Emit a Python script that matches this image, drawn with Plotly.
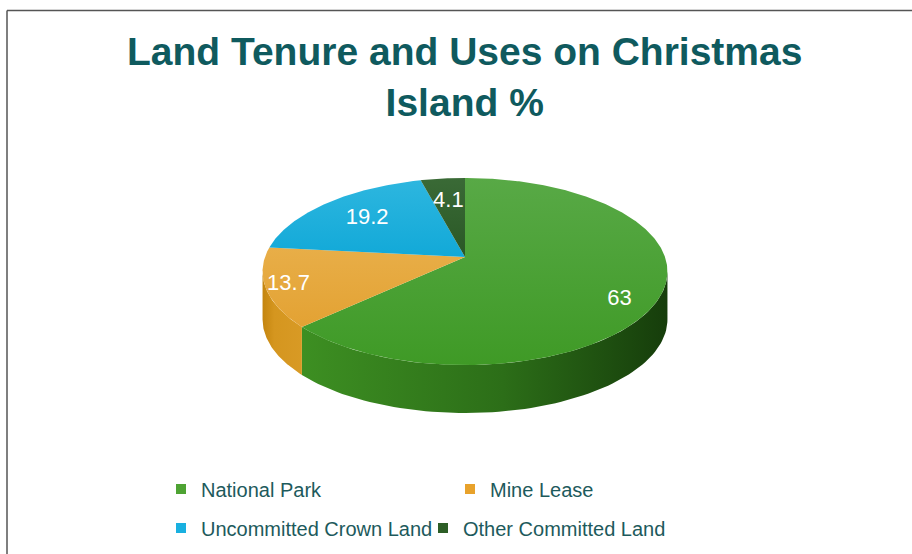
import numpy as np
import plotly.graph_objects as go

# ---- data ----
categories = ["National Park", "Mine Lease", "Uncommitted Crown Land", "Other Committed Land"]
values = [63, 13.7, 19.2, 4.1]
labels_text = ["63", "13.7", "19.2", "4.1"]

# ---- style ----
top_colors = ["#46A02C", "#E6A83A", "#19AEDC", "#2F5F2B"]
top_grad = [
    [[0, "#3F9A26"], [1, "#58A946"]],
    [[0, "#E3A233"], [1, "#E8AE48"]],
    [[0, "#12A9D8"], [1, "#2DB6DF"]],
    [[0, "#2A5826"], [1, "#3A6A36"]],
]
side_grad = [
    [[0, "#3D8F22"], [0.55, "#2C6E18"], [1, "#163D0B"]],
    [[0, "#C4850F"], [0.3, "#D5961F"], [1, "#D89A25"]],
    [[0, "#0F8CB3"], [1, "#0F8CB3"]],
    [[0, "#214420"], [1, "#214420"]],
]
legend_colors = ["#4EA333", "#E8A22B", "#19B0E0", "#2D5E26"]
label_r = [0.80, 0.89, 0.69, 0.72]
label_dy = [12, 0, 0, 3]

W, H = 912, 554
# projected disk: apex, half-axes, perspective factor, thickness
cx, cy, A, B, k, depth = 465, 257, 200, 91.3, 0.155, 48

fig = go.Figure()

total = sum(values)
bounds = np.concatenate([[0], np.cumsum(values) / total * 360.0])

def proj(theta_deg, r=1.0, dy=0.0):
    t = np.radians(theta_deg)
    u, v = r * np.sin(t), r * np.cos(t)
    s = 1.0 + k * v
    return cx + A * u / s, cy - B * v / s + dy

sil = np.degrees(np.arccos(-k))  # silhouette angles
s_lo, s_hi = sil, 360 - sil

# side faces (front)
for i in range(len(values)):
    a0, a1 = bounds[i], bounds[i + 1]
    s0, s1 = max(a0, s_lo), min(a1, s_hi)
    if s1 <= s0:
        continue
    th = np.linspace(s0, s1, 80)
    xt, yt = proj(th)
    xb, yb = proj(th[::-1], dy=depth)
    xs = np.concatenate([xt, xb, xt[:1]])
    ys = np.concatenate([yt, yb, yt[:1]])
    fig.add_trace(go.Scatter(
        x=xs, y=ys, mode="lines", fill="toself",
        line=dict(width=0, color=top_colors[i]),
        fillgradient=dict(type="horizontal", colorscale=side_grad[i]),
        hoverinfo="skip", showlegend=False))

# top faces
for i in range(len(values)):
    a0, a1 = bounds[i], bounds[i + 1]
    th = np.linspace(a0, a1, max(int((a1 - a0) * 2), 6))
    xa, ya = proj(th)
    xs = np.concatenate([[cx], xa, [cx]])
    ys = np.concatenate([[cy], ya, [cy]])
    fig.add_trace(go.Scatter(
        x=xs, y=ys, mode="lines", fill="toself",
        line=dict(width=0, color=top_colors[i]),
        fillgradient=dict(type="vertical", colorscale=top_grad[i]),
        hoverinfo="skip", showlegend=False))

# value labels
lx, ly = [], []
for i in range(len(values)):
    mid = (bounds[i] + bounds[i + 1]) / 2
    px, py = proj(mid, r=label_r[i], dy=label_dy[i])
    lx.append(px)
    ly.append(py)
fig.add_trace(go.Scatter(
    x=lx, y=ly, mode="text", text=labels_text,
    textfont=dict(family="Liberation Sans, Arial, sans-serif", size=22, color="white"),
    hoverinfo="skip", showlegend=False))

# legend entries
for i, name in enumerate(categories):
    fig.add_trace(go.Scatter(
        x=[None], y=[None], mode="markers", name=name,
        marker=dict(symbol="square", size=10, color=legend_colors[i]),
        legend="legend" if i < 2 else "legend2"))

leg_font = dict(family="Liberation Sans, Arial, sans-serif", size=20, color="#1D5A5C")
fig.update_layout(
    width=W, height=H,
    margin=dict(l=0, r=0, t=0, b=0),
    paper_bgcolor="white", plot_bgcolor="white",
    xaxis=dict(range=[0, W], visible=False, fixedrange=True),
    yaxis=dict(range=[H, 0], visible=False, fixedrange=True),
    legend=dict(orientation="h", x=161 / W, xanchor="left", y=1 - 489 / H, yanchor="middle",
                font=leg_font, itemwidth=30, entrywidth=244, entrywidthmode="pixels",
                bgcolor="rgba(0,0,0,0)", tracegroupgap=0),
    legend2=dict(orientation="h", x=161 / W, xanchor="left", y=1 - 528 / H, yanchor="middle",
                 font=leg_font, itemwidth=30, entrywidth=217, entrywidthmode="pixels",
                 bgcolor="rgba(0,0,0,0)", tracegroupgap=0),
    showlegend=True,
    annotations=[dict(
        text="<b>Land Tenure and Uses on Christmas<br>Island %</b>",
        x=464 / W, y=1 - 77 / H, xref="paper", yref="paper",
        xanchor="center", yanchor="middle", showarrow=False,
        font=dict(family="Liberation Sans, Arial, sans-serif", size=39, color="#0F5A5E"))],
    shapes=[
        dict(type="line", xref="paper", yref="paper", x0=7 / W, x1=1, y0=1 - 10.5 / H, y1=1 - 10.5 / H,
             line=dict(color="#555555", width=1.5)),
        dict(type="line", xref="paper", yref="paper", x0=7 / W, x1=7 / W, y0=0, y1=1 - 10.5 / H,
             line=dict(color="#555555", width=1.5)),
    ],
)

fig.write_html("out.html")
